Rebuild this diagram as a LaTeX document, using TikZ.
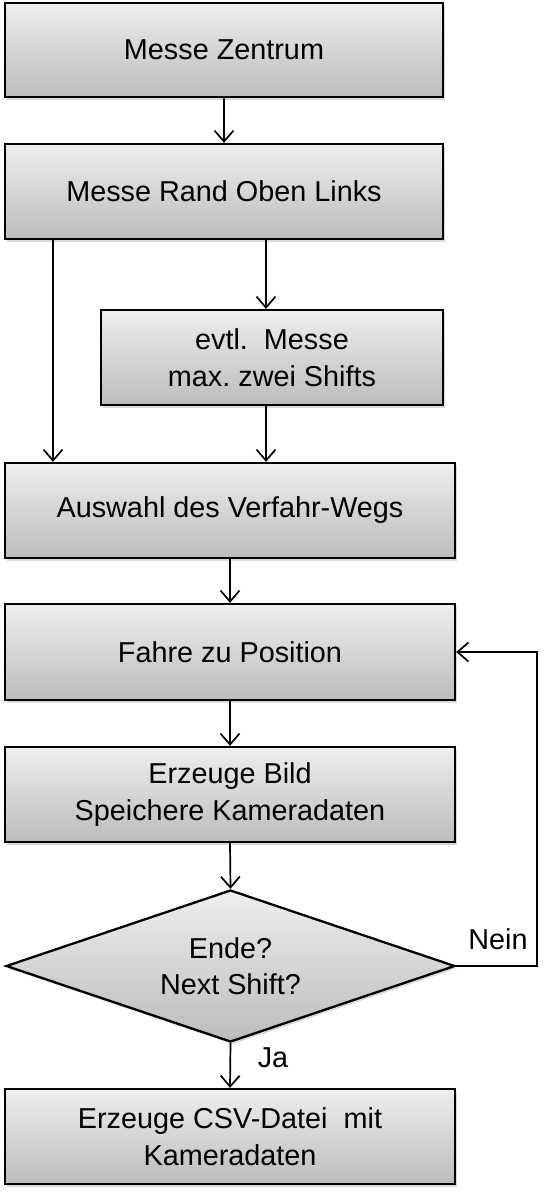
\documentclass[tikz,border=0pt]{standalone}
\usepackage{fontspec}
\setmainfont{Liberation Sans}
\usetikzlibrary{shapes.geometric,arrows.meta,shadows,calc}
\definecolor{gtop}{RGB}{238,238,238}
\definecolor{gbot}{RGB}{188,188,188}
\frenchspacing
\tikzset{
  stepbox/.style={draw=black, line width=2.3pt, rectangle, inner sep=0pt,
    top color=gtop, bottom color=gbot, align=center,
    font=\fontsize{28.8}{36.5}\selectfont,
    drop shadow={opacity=0.3, shadow xshift=2pt, shadow yshift=-2.5pt}},
  decbox/.style={stepbox, shape=diamond, aspect=2.95},
  arr/.style={line width=1.7pt, -{Straight Barb[length=11pt,width=19pt,line width=1.7pt]}},
  lbl/.style={font=\fontsize{28.8}{34}\selectfont, inner sep=0pt}
}
\begin{document}
\begin{tikzpicture}[x=1pt,y=-1pt]
\useasboundingbox (0,0) rectangle (544,1194);
\coordinate (xl) at (53,0);
\coordinate (xr) at (266,0);
\coordinate (xf) at (537,0);
\node[stepbox, minimum width=438pt, minimum height=94pt] (b1) at (224,50) {Messe Zentrum};
\node[stepbox, minimum width=438pt, minimum height=95pt] (b2) at (224,191.5) {Messe Rand Oben Links};
\node[stepbox, minimum width=342pt, minimum height=95pt] (b3) at (272,357.5) {evtl.\ \ Messe\\max.\ zwei Shifts};
\node[stepbox, minimum width=450pt, minimum height=95pt] (b4) at (230,510.5) {Auswahl des Verfahr-Wegs};
\node[stepbox, minimum width=450pt, minimum height=96pt] (b5) at (230,652) {Fahre zu Position};
\node[stepbox, minimum width=450pt, minimum height=95pt] (b6) at (230,794.5) {Erzeuge Bild\\Speichere Kameradaten};
\node[decbox, minimum width=449pt, minimum height=152pt] (d) at (230.5,966) {Ende?\\Next Shift?};
\node[stepbox, minimum width=450pt, minimum height=95pt] (b7) at (230,1136.5) {Erzeuge CSV-Datei\ \ mit\\Kameradaten};
\draw[arr] (b1.south) -- (b2.north);
\draw[arr] (b2.south -| xr) -- (b3.north -| xr);
\draw[arr] (b3.south -| xr) -- (b4.north -| xr);
\draw[arr] (b2.south -| xl) -- (b4.north -| xl);
\draw[arr] (b4.south) -- (b5.north);
\draw[arr] (b5.south) -- (b6.north);
\draw[arr] (b6.south) -- (d.north);
\draw[arr] (d.south) -- (b7.north);
\draw[arr] (d.east) -- (d.east -| xf) |- (b5.east);
\node[lbl] (nein) at (498,939) {Nein};
\node[lbl] (ja) at (273,1058) {Ja};
\end{tikzpicture}
\end{document}
